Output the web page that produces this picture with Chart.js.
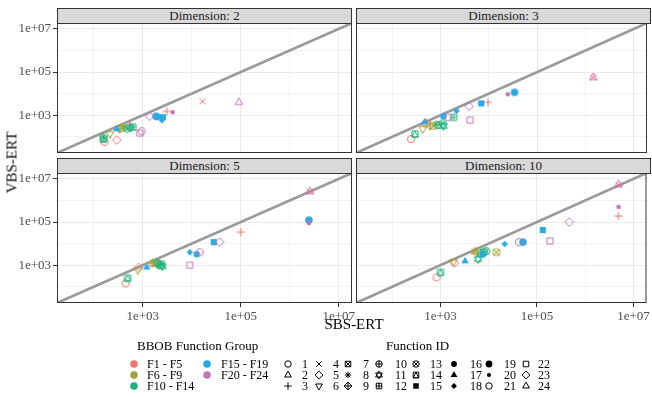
<!DOCTYPE html>
<html>
<head>
<meta charset="utf-8">
<script src="https://cdn.jsdelivr.net/npm/chart.js@4"></script>
<style>
  body { margin: 0; background: #fff; font-family: "Liberation Serif", serif; }
  #wrap { position: relative; width: 652px; height: 397px; overflow: hidden; }
  #wrap canvas { position: absolute; left: 0; top: 0; }
  .strip { position: absolute; box-sizing: border-box; background: #D9D9D9; border: 1px solid #333;
           font-size: 13px; line-height: 14px; text-align: center; color: #1A1A1A; }
  .txt { position: absolute; white-space: nowrap; color: #000; }
</style>
</head>
<body>
<div id="wrap"></div>
<script>
// ---- data ----
const functionIds = [1,2,3,4,5,6,7,8,9,10,11,12,13,14,15,16,17,18,19,20,21,22,23,24];
const functionGroup = [0,0,0,0,0,1,1,1,1,2,2,2,2,2,3,3,3,3,3,4,4,4,4,4];
const groupNames = ['F1 - F5', 'F6 - F9', 'F10 - F14', 'F15 - F19', 'F20 - F24'];
const groupColors = ['#F1756D', '#A5A43A', '#1BB17A', '#29AAE2', '#C374B9'];
const dimensions = [2, 3, 5, 10];

const sbsD2 = [166, 537, 3090, 16600, 295, 214, 372, 407, 339, 158, 562, 631, 479, 158, 2570, 1995, 295, 2455, 1862, 4074, 955, 871, 1380, 91200];
const vbsD2 = [58, 309, 1514, 4365, 71, 135, 251, 282, 229, 93, 263, 282, 240, 79, 813, 851, 229, 589, 891, 1380, 182, 148, 891, 3981];
const sbsD3 = [245, 479, 9550, 1445000, 501, 427, 708, 794, 603, 891, 1148, 1862, 1122, 295, 6918, 1148, 468, 2138, 33900, 24550, 1445, 4074, 3890, 1445000];
const vbsD3 = [79, 417, 3981, 56200, 417, 229, 316, 398, 331, 355, 316, 794, 417, 135, 3548, 891, 479, 1585, 11480, 9333, 794, 589, 2570, 56200];
const sbsD5 = [447, 1585, 100000, 2570000, 832, 794, 1778, 1585, 1995, 2239, 2512, 2399, 1995, 490, 28180, 12590, 1202, 9120, 2455000, 2455000, 14450, 9120, 37150, 2570000];
const vbsD5 = [145, 1122, 33900, 2512000, 794, 589, 1259, 1413, 1122, 1000, 891, 1122, 1318, 251, 11750, 3236, 794, 3981, 123000, 89100, 3981, 1000, 11750, 2630000];
const sbsD10 = [832, 5248, 4898000, 4898000, 1950, 1862, 14450, 5012, 5623, 7079, 6026, 7943, 8913, 1000, 131800, 7586, 3236, 21380, 51290, 4898000, 42660, 186200, 467700, 4898000];
const vbsD10 = [275, 4169, 190500, 5248000, 1259, 1445, 3981, 4467, 3981, 3548, 1905, 4169, 4467, 468, 42660, 3162, 1549, 9550, 11750, 501200, 11750, 13180, 100000, 5495000];

const gridExponents = [2, 3, 4, 5, 6, 7];
const labelExponents = [3, 5, 7];
const axisMin = Math.pow(10, 1.25);
const axisMax = Math.pow(10, 7.27);

// ---- layout ----
const W = 652, H = 397;
const wrap = document.getElementById('wrap');
const panels = [
  { dim: 0, x: sbsD2,  y: vbsD2,  area: [57, 23, 352, 153],  showX: false, showY: true },
  { dim: 1, x: sbsD3,  y: vbsD3,  area: [356, 23, 651, 153], showX: false, showY: false },
  { dim: 2, x: sbsD5,  y: vbsD5,  area: [57, 173, 352, 303], showX: true,  showY: true },
  { dim: 3, x: sbsD10, y: vbsD10, area: [356, 173, 651, 303], showX: true,  showY: false }
];
const xAxisH = 22;

// ggplot-like point shapes drawn into small canvases
function shapeCanvas(id, color, k) {
  k = k || 1;
  const c = document.createElement('canvas');
  c.width = 14; c.height = 14;
  const g = c.getContext('2d');
  g.translate(7, 7);
  g.strokeStyle = color; g.fillStyle = color; g.lineWidth = 1;
  const r = 3.6 * k;
  const circ = (a) => { g.beginPath(); g.arc(0, 0, a, 0, Math.PI * 2); };
  const sq = (a) => { g.beginPath(); g.rect(-a, -a, 2 * a, 2 * a); };
  const poly = (pts) => { g.beginPath(); g.moveTo(pts[0][0], pts[0][1]); pts.slice(1).forEach(p => g.lineTo(p[0], p[1])); g.closePath(); };
  const triUp = (a) => poly([[0, -1.2 * a], [1.05 * a, 0.62 * a], [-1.05 * a, 0.62 * a]]);
  const triDn = (a) => poly([[0, 1.2 * a], [1.05 * a, -0.62 * a], [-1.05 * a, -0.62 * a]]);
  const dia = (a) => poly([[0, -a], [a, 0], [0, a], [-a, 0]]);
  const plus = (a) => { g.beginPath(); g.moveTo(-a, 0); g.lineTo(a, 0); g.moveTo(0, -a); g.lineTo(0, a); g.stroke(); };
  const cross = (a) => { g.beginPath(); g.moveTo(-a, -a); g.lineTo(a, a); g.moveTo(-a, a); g.lineTo(a, -a); g.stroke(); };
  const s = r * 0.85;
  switch (id) {
    case 1: circ(r); g.stroke(); break;
    case 2: triUp(r); g.stroke(); break;
    case 3: plus(r * 1.15); break;
    case 4: cross(r * 0.85); break;
    case 5: dia(r * 1.2); g.stroke(); break;
    case 6: triDn(r); g.stroke(); break;
    case 7: sq(s); g.stroke(); cross(s); break;
    case 8: plus(r); cross(r * 0.72); break;
    case 9: dia(r * 1.2); g.stroke(); plus(r * 1.2); break;
    case 10: circ(r); g.stroke(); plus(r); break;
    case 11: triUp(r); g.stroke(); triDn(r); g.stroke(); break;
    case 12: sq(s); g.stroke(); plus(s); break;
    case 13: circ(r); g.stroke(); cross(r * 0.7); break;
    case 14: sq(s); g.stroke(); poly([[-s, s], [0, -s], [s, s]]); g.stroke(); break;
    case 15: sq(s); g.fill(); break;
    case 16: circ(r * 0.9); g.fill(); break;
    case 17: triUp(r); g.fill(); break;
    case 18: dia(r * 0.9); g.fill(); break;
    case 19: circ(r * 1.05); g.fill(); break;
    case 20: circ(r * 0.65); g.fill(); break;
    case 21: circ(r); g.stroke(); break;
    case 22: sq(s); g.stroke(); break;
    case 23: dia(r * 1.2); g.stroke(); break;
    case 24: triUp(r); g.stroke(); break;
  }
  return c;
}

function expOf(v) { return Math.round(Math.log10(v)); }
function isMajor(ctx) { return ctx.tick && labelExponents.includes(expOf(ctx.tick.value)); }

function axis(show, size, which) {
  return {
    type: 'logarithmic',
    min: axisMin,
    max: axisMax,
    afterBuildTicks: s => { s.ticks = gridExponents.map(e => ({ value: Math.pow(10, e) })); },
    afterFit: s => { if (which === 'x') s.height = size; else s.width = size; },
    border: { display: false },
    grid: {
      color: '#EBEBEB',
      lineWidth: ctx => isMajor(ctx) ? 1 : 0.6,
      drawTicks: show,
      tickLength: 4,
      tickWidth: 1,
      tickColor: ctx => isMajor(ctx) ? '#333333' : 'rgba(0,0,0,0)'
    },
    ticks: {
      display: show,
      autoSkip: false,
      maxRotation: 0,
      padding: 2,
      color: '#4D4D4D',
      font: { family: 'Liberation Serif', size: 13 },
      callback: v => {
        const e = expOf(v);
        return labelExponents.includes(e) ? '1e+' + String(e).padStart(2, '0') : '';
      }
    }
  };
}

const panelBorder = {
  id: 'panelBorder',
  afterDraw(chart) {
    const a = chart.chartArea, c = chart.ctx;
    c.save();
    c.strokeStyle = '#333333';
    c.lineWidth = 1;
    c.strokeRect(a.left + 0.5, a.top + 0.5, a.right - a.left - 1, a.bottom - a.top - 1);
    c.restore();
  }
};

panels.forEach(p => {
  const cv = document.createElement('canvas');
  cv.width = W; cv.height = H;
  wrap.appendChild(cv);
  const pts = p.x.map((v, i) => ({ x: v, y: p.y[i] }));
  const styles = functionIds.map((id, i) => shapeCanvas(id, groupColors[functionGroup[i]]));
  const yW = p.showY ? p.area[0] : 0;
  const xH = p.showX ? xAxisH : 0;
  new Chart(cv, {
    type: 'scatter',
    data: {
      datasets: [
        { data: pts, pointStyle: styles, pointRadius: 4, order: 1 },
        { data: [{ x: 1, y: 1 }, { x: 1e9, y: 1e9 }], showLine: true, borderColor: '#9A9A9A',
          borderWidth: 2.6, pointRadius: 0, order: 2 }
      ]
    },
    options: {
      responsive: false,
      animation: false,
      events: [],
      layout: { padding: { left: p.area[0] - yW, top: p.area[1], right: W - p.area[2], bottom: H - p.area[3] - xH } },
      plugins: { legend: { display: false }, tooltip: { enabled: false } },
      scales: { x: axis(p.showX, xH, 'x'), y: axis(p.showY, yW, 'y') }
    },
    plugins: [panelBorder]
  });

  const st = document.createElement('div');
  st.className = 'strip';
  st.style.left = p.area[0] + 'px';
  st.style.top = (p.area[1] - 15) + 'px';
  st.style.width = (p.area[2] - p.area[0]) + 'px';
  st.style.height = '16px';
  st.textContent = 'Dimension: ' + dimensions[p.dim];
  wrap.appendChild(st);
});

function addText(str, left, cy, size, extra) {
  const d = document.createElement('div');
  d.className = 'txt';
  d.style.left = left + 'px';
  d.style.top = (cy - size * 0.58) + 'px';
  d.style.fontSize = size + 'px';
  d.style.lineHeight = Math.round(size * 1.15) + 'px';
  if (extra) Object.assign(d.style, extra);
  d.textContent = str;
  wrap.appendChild(d);
  return d;
}

// axis titles
addText('SBS-ERT', 314, 325, 15, { width: '80px', textAlign: 'center' });
addText('VBS-ERT', -28, 163, 15, { width: '80px', textAlign: 'center', transform: 'rotate(-90deg)' });

// legend: function groups
const rowY = [364, 375, 386];
addText('BBOB Function Group', 137, 346, 13);
groupNames.forEach((name, i) => {
  const col = i < 3 ? 0 : 1, row = i < 3 ? i : i - 3;
  const dotX = [134, 207][col], txtX = [147, 221][col];
  const dot = document.createElement('canvas');
  dot.width = 10; dot.height = 10;
  dot.style.left = (dotX - 5) + 'px';
  dot.style.top = (rowY[row] - 5) + 'px';
  const g = dot.getContext('2d');
  g.fillStyle = groupColors[i];
  g.beginPath(); g.arc(5, 5, 3.8, 0, Math.PI * 2); g.fill();
  wrap.appendChild(dot);
  addText(name, txtX, rowY[row], 12);
});

// legend: function ids
addText('Function ID', 386, 346, 13);
const shapeX = [288, 319, 348, 379, 416, 454, 489, 526];
const numX = [302, 333, 363, 395, 430, 470, 504, 538];
functionIds.forEach((id, i) => {
  const col = Math.floor(i / 3), row = i % 3;
  const sc = shapeCanvas(id, '#000000', 0.9);
  sc.style.left = (shapeX[col] - 7) + 'px';
  sc.style.top = (rowY[row] - 7) + 'px';
  wrap.appendChild(sc);
  addText(String(id), numX[col], rowY[row], 12);
});
</script>
</body>
</html>
